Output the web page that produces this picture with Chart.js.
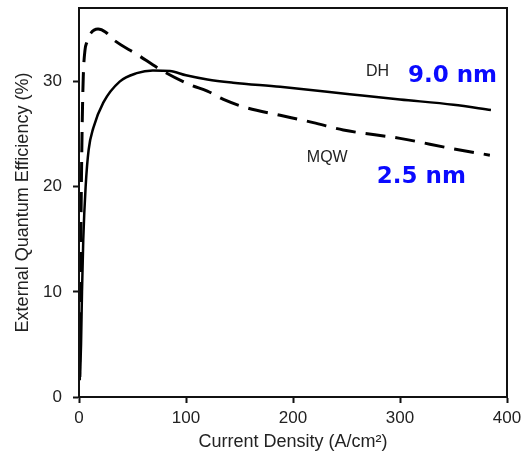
<!DOCTYPE html>
<html>
<head>
<meta charset="utf-8">
<script src="https://cdn.jsdelivr.net/npm/chart.js@4/dist/chart.umd.min.js"></script>
<style>
  html, body { margin: 0; padding: 0; background: #ffffff; }
  #wrap { width: 525px; height: 457px; }
</style>
</head>
<body>
<div id="wrap"><canvas id="c" width="525" height="457"></canvas></div>
<script>
// ---- data ----
const dhX  = [1, 1.9, 2.8, 4, 6.2, 9, 13.4, 22.7, 38, 54, 69, 85, 100, 120, 144, 188, 253, 300, 350, 385];
const dhY  = [1.9, 5, 10, 15, 20, 23.5, 25.6, 28, 30, 30.8, 31.05, 31.0, 30.6, 30.2, 29.9, 29.5, 28.8, 28.3, 27.8, 27.3];
const mqwX = [0.5, 1.2, 2.2, 3, 4, 5.6, 7.2, 11, 17.8, 25, 32, 54, 78.5, 104, 120, 135, 157, 188, 219, 247, 300, 350, 384];
const mqwY = [1.6, 10, 20, 26, 30.5, 33, 33.7, 34.6, 35.0, 34.7, 34.0, 32.6, 31.0, 29.7, 29.1, 28.3, 27.5, 26.8, 26.1, 25.4, 24.6, 23.6, 23.0];
const xTicks = [0, 100, 200, 300, 400];
const yTicks = [0, 10, 20, 30];
const xTitle = 'Current Density (A/cm\u00B2)';
const yTitle = 'External Quantum Efficiency (%)';
const seriesLabels = ['DH', 'MQW'];
const annotTexts = ['DH', '9.0 nm', 'MQW', '2.5 nm'];
const annotX = [279, 349, 232, 320];
const annotY = [30.95, 30.5, 22.8, 20.9];

const toPts = (xs, ys) => xs.map((x, i) => ({x: x, y: ys[i]}));

const frame = {
  id: 'frame',
  afterDraw(chart) {
    const a = chart.chartArea, ctx = chart.ctx;
    ctx.save();
    ctx.strokeStyle = '#111';
    ctx.lineWidth = 2;
    ctx.strokeRect(a.left, a.top, a.right - a.left, a.bottom - a.top);
    ctx.restore();
  }
};

const annots = {
  id: 'annots',
  afterDatasetsDraw(chart) {
    const ctx = chart.ctx, xs = chart.scales.x, ys = chart.scales.y;
    ctx.save();
    ctx.textAlign = 'center';
    ctx.textBaseline = 'middle';
    annotTexts.forEach((t, i) => {
      const big = t.indexOf('nm') >= 0;
      ctx.font = big ? 'bold 23px "DejaVu Sans"' : '16px "Liberation Sans", Arial';
      ctx.fillStyle = big ? '#0a0aff' : '#222';
      ctx.fillText(t, xs.getPixelForValue(annotX[i]), ys.getPixelForValue(annotY[i]));
    });
    ctx.restore();
  }
};

new Chart(document.getElementById('c'), {
  type: 'line',
  data: {
    datasets: [
      {
        label: seriesLabels[0],
        data: toPts(dhX, dhY),
        borderColor: '#000',
        borderWidth: 2.5,
        pointRadius: 0,
        cubicInterpolationMode: 'monotone',
        fill: false
      },
      {
        label: seriesLabels[1],
        data: toPts(mqwX, mqwY),
        borderColor: '#000',
        borderWidth: 3,
        borderDash: [20, 10],
        borderDashOffset: 12,
        pointRadius: 0,
        cubicInterpolationMode: 'monotone',
        fill: false
      }
    ]
  },
  options: {
    responsive: false,
    animation: false,
    devicePixelRatio: 1,
    layout: { padding: { left: 0, right: 18, top: 8, bottom: 0 } },
    plugins: { legend: { display: false }, tooltip: { enabled: false } },
    scales: {
      x: {
        type: 'linear',
        min: 0, max: 400,
        afterFit(s) { s.height = 60; s.paddingLeft = 0; s.paddingRight = 0; },
        afterBuildTicks(s) { s.ticks = xTicks.map(v => ({value: v})); },
        grid: { drawOnChartArea: false, drawTicks: true, tickLength: 6, tickWidth: 2, tickColor: '#111' },
        border: { display: true, color: '#111', width: 2 },
        ticks: { color: '#222', font: { family: '"Liberation Sans", Arial', size: 17 }, padding: 5, maxRotation: 0 },
        title: { display: true, text: xTitle, color: '#222', font: { family: '"Liberation Sans", Arial', size: 18 }, padding: { top: 0, bottom: 4 } }
      },
      y: {
        min: 0, max: 37,
        afterFit(s) { s.width = 79; s.paddingTop = 0; s.paddingBottom = 0; },
        afterBuildTicks(s) { s.ticks = yTicks.map(v => ({value: v})); },
        grid: { drawOnChartArea: false, drawTicks: true, tickLength: 6, tickWidth: 2, tickColor: '#111' },
        border: { display: true, color: '#111', width: 2 },
        ticks: { color: '#222', font: { family: '"Liberation Sans", Arial', size: 17 }, padding: 11 },
        title: { display: true, text: yTitle, color: '#222', font: { family: '"Liberation Sans", Arial', size: 18 }, padding: { top: 12, bottom: 0 } }
      }
    }
  },
  plugins: [frame, annots]
});
</script>
</body>
</html>
